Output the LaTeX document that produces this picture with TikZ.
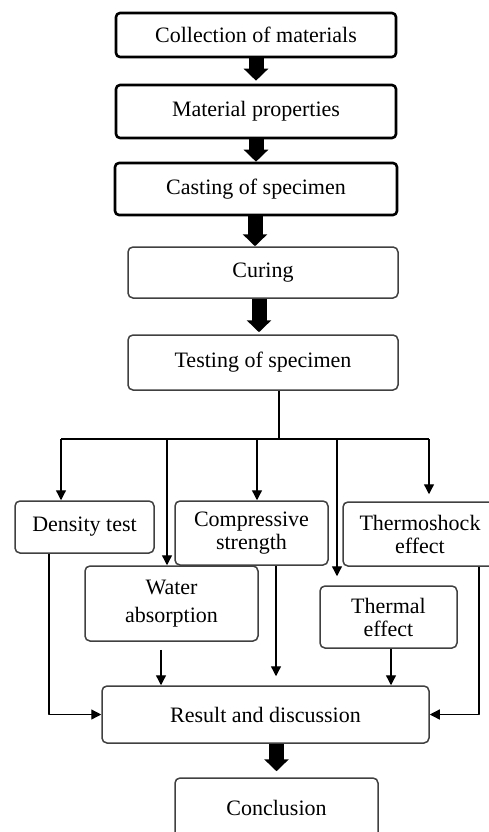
\documentclass[tikz,border=0pt]{standalone}
\usepackage{fontspec}
\setmainfont{Liberation Serif}
\usetikzlibrary{arrows.meta}

\begin{document}
\begin{tikzpicture}[x=1pt,y=-1pt,line cap=butt,line join=round,
  font=\fontsize{22}{23}\selectfont,
  heavybox/.style={draw=black,line width=2.6pt,rounded corners=4pt,inner sep=0pt,align=center},
  lightbox/.style={draw=black!75,line width=1.5pt,rounded corners=5pt,inner sep=0pt,align=center},
  conn/.style={line width=1.3pt},
  arr/.style={line width=1.3pt,-{Triangle[length=10pt,width=10pt]}},
  block/.style={line width=15pt,-{Triangle[length=12pt,width=24pt]}}]
\useasboundingbox (0,0) rectangle (489,832);
\node[heavybox,minimum width=280,minimum height=44] (coll) at (256,35) {Collection of materials};
\node[heavybox,minimum width=280,minimum height=53] (mat) at (256,111.5) {Material properties};
\node[heavybox,minimum width=282,minimum height=52] (cast) at (256,189) {Casting of specimen};
\node[lightbox,minimum width=270,minimum height=51] (cure) at (263,272.5) {Curing};
\node[lightbox,minimum width=270,minimum height=55] (test) at (263,362.5) {Testing of specimen};
\node[lightbox,minimum width=139,minimum height=52] (dens) at (84.5,527) {Density test};
\node[lightbox,minimum width=153,minimum height=64] (comp) at (251.5,533) {Compressive\\strength};
\node[lightbox,minimum width=154,minimum height=64] (shock) at (420,534) {Thermoshock\\effect};
\node[lightbox,minimum width=173,minimum height=75] (water) at (171.5,603.5) {Water\\[5pt]absorption};
\node[lightbox,minimum width=137,minimum height=62] (therm) at (388.5,617) {Thermal\\effect};
\node[lightbox,minimum width=327,minimum height=57] (res) at (265.5,714.5) {Result and discussion};
\node[lightbox,minimum width=203,minimum height=60] (concl) at (276.5,808) {Conclusion};
\coordinate (split) at (279,439);
\coordinate (bD) at (61,439);
\coordinate (bW) at (167,439);
\coordinate (bC) at (257,439);
\coordinate (bT) at (337,439);
\coordinate (bS) at (429,439);
\coordinate (dX) at (49,0);
\coordinate (wX) at (161,0);
\coordinate (cX) at (276,0);
\coordinate (tX) at (391,0);
\coordinate (sX) at (479,0);
\coordinate (k3) at (255,0);
\coordinate (k4) at (259,0);
\draw[block,shorten >=3pt] (coll) -- (mat);
\draw[block] (mat) -- (cast);
\draw[block] (cast.south -| k3) -- (cure.north -| k3);
\draw[block,shorten >=2pt] (cure.south -| k4) -- (test.north -| k4);
\draw[block,shorten >=6pt] (res.south -| concl) -- (concl.north);
\draw[conn] (test.south -| split) -- (split);
\draw[conn] (bD) -- (bS);
\draw[arr] (bD) -- (bD |- dens.north);
\draw[arr] (bW) -- (bW |- water.north);
\draw[arr] (bC) -- (bC |- comp.north);
\draw[arr,shorten >=9pt] (bT) -- (bT |- therm.north);
\draw[arr,shorten >=7pt] (bS) -- (bS |- shock.north);
\draw[arr] (dens.south -| dX) |- (res.west);
\draw[arr] (shock.south -| sX) |- (res.east);
\draw[arr,shorten <=8pt] (water.south -| wX) -- (wX |- res.north);
\draw[arr,shorten >=9pt] (comp.south -| cX) -- (cX |- res.north);
\draw[arr] (therm.south -| tX) -- (tX |- res.north);
\end{tikzpicture}
\end{document}
